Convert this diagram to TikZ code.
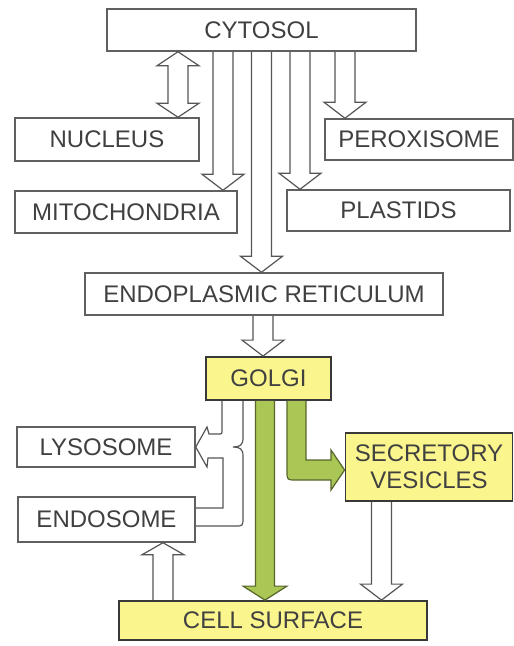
\documentclass[tikz,border=0pt]{standalone}
\usepackage{fontspec}
\setmainfont{Liberation Sans}
\usetikzlibrary{calc}
\definecolor{boxline}{HTML}{606060}
\definecolor{darkline}{HTML}{383838}
\definecolor{arrline}{HTML}{555555}
\definecolor{txt}{HTML}{404040}
\definecolor{yel}{HTML}{FBF58E}
\definecolor{grn}{HTML}{AAC655}
\definecolor{grnline}{HTML}{56652A}
% down arrow: [style]{x centre}{from}{to}
\newcommand\arrdown[4][]{%
  \draw[hollow,#1] let \p1=(#3), \p2=(#4) in
    (#2pt-10pt,\y1) -- (#2pt-10pt,\y2+16pt) -- (#2pt-21pt,\y2+16pt) -- (#2pt,\y2)
    -- (#2pt+21pt,\y2+16pt) -- (#2pt+10pt,\y2+16pt) -- (#2pt+10pt,\y1);}
\newcommand\arrup[4][]{%
  \draw[hollow,#1] let \p1=(#3), \p2=(#4) in
    (#2pt-10pt,\y1) -- (#2pt-10pt,\y2-12pt) -- (#2pt-21pt,\y2-12pt) -- (#2pt,\y2)
    -- (#2pt+21pt,\y2-12pt) -- (#2pt+10pt,\y2-12pt) -- (#2pt+10pt,\y1);}
\begin{document}
\begin{tikzpicture}[x=1pt,y=-1pt,
  box/.style={draw=boxline,line width=1.5pt,fill=white,inner sep=0pt,text=txt,
    font=\fontsize{24}{27}\selectfont,align=center},
  ybox/.style={box,draw=darkline,line width=1.8pt,fill=yel},
  hollow/.style={draw=arrline,line width=1.2pt,line join=miter},
  garrow/.style={draw=grnline,line width=1.2pt,fill=grn,line join=miter}]
\useasboundingbox (0,0) rectangle (514,646);
\node[box,minimum width=309pt,minimum height=42pt] (cyt) at (261.5,30) {CYTOSOL};
\node[box,minimum width=184pt,minimum height=43pt] (nuc) at (107,139.5) {NUCLEUS};
\node[box,minimum width=188pt,minimum height=41pt] (per) at (419,139.5) {PEROXISOME};
\node[box,minimum width=222pt,minimum height=42pt] (mito) at (126,212) {MITOCHONDRIA};
\node[box,minimum width=223pt,minimum height=41pt] (plas) at (398.5,210.5) {PLASTIDS};
\node[box,minimum width=358pt,minimum height=42pt] (er) at (264,294) {ENDOPLASMIC RETICULUM};
\node[ybox,minimum width=125pt,minimum height=43pt] (golgi) at (268.5,378.5) {GOLGI};
\node[box,minimum width=178pt,minimum height=40pt] (lys) at (106,447) {LYSOSOME};
\node[box,minimum width=177pt,minimum height=45pt] (endo) at (106.5,519.5) {ENDOSOME};
\node[ybox,minimum width=167pt,minimum height=68pt] (sv) at (429,467) {SECRETORY\\VESICLES};
\node[ybox,minimum width=308pt,minimum height=39pt] (cs) at (273,620.5) {CELL SURFACE};
% double arrow cytosol <-> nucleus
\draw[hollow] let \p1=(cyt.south), \p2=(nuc.north) in
  (168pt,\y1-14pt) -- (157pt,\y1-14pt) -- (178pt,\y1) -- (199pt,\y1-14pt) -- (188pt,\y1-14pt)
  -- (188pt,\y2+14pt) -- (199pt,\y2+14pt) -- (178pt,\y2) -- (157pt,\y2+14pt) -- (168pt,\y2+14pt) -- cycle;
\arrdown{223}{cyt.south}{mito.north}
\arrdown{261.5}{cyt.south}{er.north}
\arrdown{300}{cyt.south}{plas.north}
\arrdown{345}{cyt.south}{per.north}
\arrdown{263}{er.south}{golgi.north}
\arrdown{381.5}{sv.south}{cs.north}
\arrup{163}{cs.north}{endo.south}
% green arrows
\draw[garrow] let \p1=(golgi.south), \p2=(cs.north) in
  (255.5pt,\y1) -- (255.5pt,\y2+14pt) -- (243pt,\y2+14pt) -- (265pt,\y2) -- (287pt,\y2+14pt)
  -- (274.5pt,\y2+14pt) -- (274.5pt,\y1);
\draw[garrow] let \p1=(golgi.south), \p2=($(sv.west)+(0,3)$) in
  (287pt,\y1) -- (287pt,\y2-1pt) .. controls (287pt,\y2-10pt) .. (296pt,\y2-10pt)
  -- (331pt,\y2-10pt) -- (331pt,\y2-20pt) -- (\x2,\y2) -- (331pt,\y2+20pt) -- (331pt,\y2+10pt)
  -- (306pt,\y2+10pt) -- (306pt,\y1);
% merging arrow golgi / endosome -> lysosome
\draw[hollow] let \p1=(golgi.south), \p2=(lys.east), \p3=(endo.east) in
  (222pt,\y1) -- (222pt,\y2+17pt) .. controls (222pt,\y2+13pt) .. (218pt,\y2+13pt)
  -- (209pt,\y2+13pt) -- (207pt,\y2+20pt) -- (\x2,\y2) -- (207pt,\y2-20pt) -- (208pt,\y2-11pt)
  -- (223pt,\y2-11pt) -- (223pt,\y3+11.5pt) -- (\x3,\y3+11.5pt);
\draw[hollow] let \p1=(golgi.south), \p2=(lys.east), \p3=(endo.east) in
  (243pt,\y1) -- (243pt,\y2+9pt) .. controls (243pt,\y2+2pt) and (240pt,\y2) .. (233pt,\y2)
  .. controls (240pt,\y2) and (243pt,\y2-2pt) .. (243pt,\y2-9pt)
  -- (243pt,\y3+2pt) .. controls (243pt,\y3-6.5pt) .. (235pt,\y3-6.5pt) -- (\x3,\y3-6.5pt);
\end{tikzpicture}
\end{document}
